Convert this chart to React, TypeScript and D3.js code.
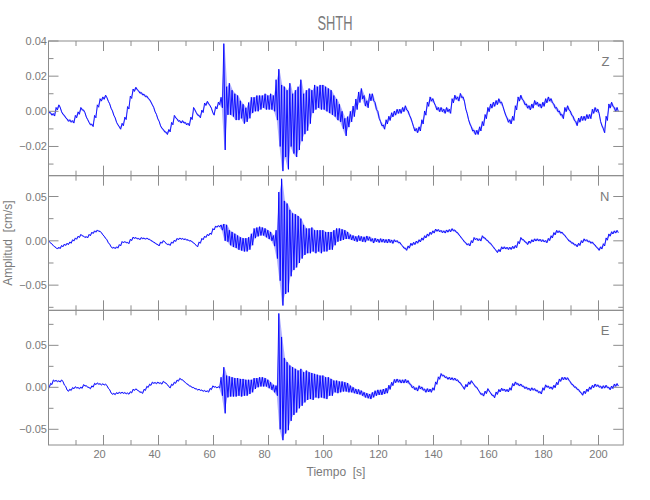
import React from "react";
import * as d3 from "d3";

// ---- data (values in 1e-3 cm/s, one sample per second, t = 0..207 s) ----
// mid = centre of the trace in that second, amp = half of its peak-to-peak spread
const UNIT = 0.001;
const T0 = 0;
const DT = 1;

const zMid = [
  0, -1.5, -2, 1.5, 3, -1, -3, -5, -5.5, -6,
  -3, -1, 1.5, 0, -4, -7, -8, -3, 3, 6.5,
  7.5, 8.5, 5, 1, -3, -7, -9.5, -7.5, -4, 2,
  8, 12, 13, 11, 10, 9, 8, 6, 3, -1,
  -5, -9, -11, -12.5, -11, -7, -3, -5, -6, -6,
  -7, -7.5, -4, 1.5, -1.5, -3, 0, 4, 5, 2.5,
  -1.5, 2, 4.5, 5, 8.25, 6, 7, 4.5, 2.5, 2,
  1, -1.5, -2, 0.5, 3.5, 4, 4.5, 5, 5.5, 5.5,
  5, 5.5, 4.5, 6.5, 2, -9.5, -6, -10.5, -2, -7,
  -7, -4, 0.5, -1.5, 0.5, 3, 5.5, 8, 8, 8,
  8, 7, 6, 5, 3, 1, -1, -5, -9, -6,
  -3, 0, 4, 8, 10, 6, 4, 8, 8, 3,
  -2, -7, -9, -6, -4, -2, -1, 0, 0, 1,
  2, -1, -5, -10, -11, -10, -6, -1, 4, 7,
  6, 2, 1, 1, 0, 1, 0, 6, 8, 7,
  9, 7, 0, -6, -10, -12, -12, -10, -7, -3,
  1, 3, 4, 5, 6, 4, -1, -5, -6, -4,
  2, 7, 8, 5, 3, 2, 3, 5, 4, 3,
  4, 6, 7, 6, 3, 1, -1, -3, 1, 2,
  -1, -4, -7, -5, -4, -4, -3, -3, 0, 1,
  0, -7, -11, -4, 3, 4, 1, 1,
];
const zAmp = [
  0.7, 0.7, 0.7, 0.7, 0.7, 0.7, 0.7, 0.7, 0.7, 0.7,
  0.7, 0.7, 0.7, 0.7, 0.7, 0.7, 0.7, 0.7, 0.7, 0.7,
  0.7, 0.7, 0.7, 0.7, 0.7, 0.7, 0.7, 0.7, 0.7, 0.7,
  0.7, 0.7, 0.7, 0.7, 0.7, 0.7, 0.7, 0.7, 0.7, 0.7,
  0.7, 0.7, 0.7, 0.7, 0.7, 0.7, 0.7, 0.7, 0.7, 0.7,
  0.7, 0.7, 0.7, 0.7, 0.7, 0.7, 0.7, 0.7, 0.7, 0.7,
  0.7, 0.7, 0.7, 3, 30.25, 8, 9, 7.5, 7.5, 7,
  5, 5.5, 4, 4.5, 4.5, 4, 4.5, 4, 3.5, 4.5,
  4, 4.5, 4.5, 11.5, 22, 24.5, 20, 22.5, 18, 17,
  19, 18, 17.5, 11.5, 11.5, 10, 6.5, 7, 6, 7,
  7, 7, 7, 7, 6, 6, 5, 5, 5, 3,
  3, 3, 3, 3, 3, 3, 2, 2, 2, 2,
  2, 1.2, 1.2, 1.2, 1.2, 1.2, 1.2, 1.2, 1.2, 1.2,
  1.2, 1.2, 1.2, 1.2, 1.2, 1.2, 1.2, 1.2, 1.2, 1.2,
  1.2, 1.2, 1.2, 1.2, 1.2, 1.2, 1.2, 1.2, 1.2, 1.2,
  1.2, 1.2, 1.2, 1.2, 1.2, 1.2, 1.2, 1.2, 1.2, 1.2,
  1.2, 1.2, 1.2, 1.2, 1.2, 1.2, 1.2, 1.2, 1.2, 1.2,
  1.2, 1.2, 1.2, 1.2, 1.2, 1.2, 1.2, 1.2, 1.2, 1.2,
  1.2, 1.2, 1.2, 1.2, 1.2, 1.2, 1.2, 1.2, 1.2, 1.2,
  1.2, 1.2, 1.2, 1.2, 1.2, 1.2, 1.2, 1.2, 1.2, 1.2,
  1.2, 1.2, 1.2, 1.2, 1.2, 1.2, 1.2, 1.2,
];

const nMid = [
  0, -3, -6, -8.5, -8, -6, -4.5, -3.5, -2, 0.5,
  2.5, 4.5, 6.5, 4.5, 4, 6.5, 9, 10.5, 11.5, 10,
  6, 2, -3, -7.5, -8, -7.5, -5, -1.5, -1.5, -2.5,
  1, 3.5, 3, 2, 3, 2.5, 2.5, 1, -1, -3,
  -5, -2, -0.5, -3.5, -4.5, -2, 0, 2, 2.5, 2,
  1.5, 0.5, -0.5, -3, -6, -2, 2, 4.5, 6.5, 8,
  13, 16, 16.5, 15, 9.5, 8.5, 3.5, 1.5, 0, -2,
  -3.5, -4.5, -4.5, -3, 1.5, 8.5, 10, 11, 10.5, 9,
  7, 5, 0, -4, 5, -1.5, -7.5, -8, -2.5, -1,
  0, 1.5, 2.5, 1, 0, 0, 1.5, -1, 0, -1,
  0, -1, 0, 0, 3.5, 6.5, 7, 7, 7, 6,
  4, 3, 2, 3, 2, 1.5, 3, 2, 0, 1,
  0, 0.5, 0, -0.5, 0, -1, 0, -1, -3, -7,
  -9.5, -7, -4, -3, -1.5, 0, 2, 4.5, 6.5, 8.5,
  10, 12, 11.5, 10.5, 10, 11, 11.5, 12.5, 11, 8,
  4, 0, -3.5, -4.5, -1, 2.5, 1.5, 1, 4.5, 2,
  -1, -4, -8, -12, -11, -8, -8, -8.5, -8.5, -7.5,
  -6.5, -2, 2.5, 0, -3, -1.5, 0, 1, 1, 0.5,
  0, -1, 1.5, 4.5, 8, 10.5, 10, 8.5, 5, 1,
  -1.5, -3.5, -5.5, -4, -1, 1, 0, -1.5, -2.5, -6,
  -9.5, -8, -4.5, 2, 6.5, 9, 10, 10.5,
];
const nAmp = [
  0.8, 0.8, 0.8, 0.8, 0.8, 0.8, 0.8, 0.8, 0.8, 0.8,
  0.8, 0.8, 0.8, 0.8, 0.8, 0.8, 0.8, 0.8, 0.8, 0.8,
  0.8, 0.8, 0.8, 0.8, 0.8, 0.8, 0.8, 0.8, 0.8, 0.8,
  0.8, 0.8, 0.8, 0.8, 0.8, 0.8, 0.8, 0.8, 0.8, 0.8,
  0.8, 0.8, 0.8, 0.8, 0.8, 0.8, 0.8, 0.8, 0.8, 0.8,
  0.8, 0.8, 0.8, 0.8, 0.8, 0.8, 0.8, 0.8, 0.8, 0.8,
  0.8, 0.8, 0.8, 3, 9.5, 9.5, 8.5, 8.5, 8, 8,
  7.5, 7.5, 7.5, 7, 6.5, 5.5, 5, 5, 4.5, 5,
  5, 5, 6, 16, 50, 71.5, 52.5, 50, 37.5, 32,
  30, 26.5, 22.5, 17, 14, 14, 13.5, 13, 12, 13,
  12, 11, 10, 10, 8.5, 7.5, 7, 6, 5, 4,
  3, 3, 3, 3, 3, 3, 2.5, 2.5, 2.5, 2,
  2, 2, 2, 2, 2, 2, 1.3, 1.3, 1.3, 1.3,
  1.3, 1.3, 1.3, 1.3, 1.3, 1.3, 1.3, 1.3, 1.3, 1.3,
  1.3, 1.3, 1.3, 1.3, 1.3, 1.3, 1.3, 1.3, 1.3, 1.3,
  1.3, 1.3, 1.3, 1.3, 1.3, 1.3, 1.3, 1.3, 1.3, 1.3,
  1.3, 1.3, 1.3, 1.3, 1.3, 1.3, 1.3, 1.3, 1.3, 1.3,
  1.3, 1.3, 1.3, 1.3, 1.3, 1.3, 1.3, 1.3, 1.3, 1.3,
  1.3, 1.3, 1.3, 1.3, 1.3, 1.3, 1.3, 1.3, 1.3, 1.3,
  1.3, 1.3, 1.3, 1.3, 1.3, 1.3, 1.3, 1.3, 1.3, 1.3,
  1.3, 1.3, 1.3, 1.3, 1.3, 1.3, 1.3, 1.3,
];

const eMid = [
  0, 4, 8, 7.5, 7, 8, 2, -4, -3, -1,
  0, -1, -0.5, 2.5, 1, -1, 1, 4, 4.5, 3.5,
  3.5, 3, -2, -7.5, -8, -7, -6.5, -6.5, -7, -7.5,
  -6, -3, -2.5, -5, -6.5, -3, 0.5, 3, 5.5, 5,
  5.5, 4.5, 6.5, 4, 0, 3, 5.5, 8, 10, 8,
  5, 2.5, 0.5, -1, -2.5, -3, -4, -4.5, -5, -2,
  1, 0, 0, 1, -3.5, 1, 1, 0.5, 0, 0.5,
  -0.5, 0, -0.5, 0.5, 1.5, 4.5, 5.5, 6.5, 6.5, 6,
  4, 1.5, -1.5, -4, 19, -1.5, -10, -10.5, -7, -4.5,
  -4, -2.5, 0, 0, 2.5, 2, 1, 2, 1, 1,
  0.5, -1, 1, 0, 1, 0.5, 0.5, 1, 0.5, -0.5,
  -2, -3.5, -5, -5.5, -7, -9, -10, -11, -9, -7,
  -6, -6, -5, -4, 0, 4, 7.5, 8, 7, 7,
  7.5, 6, 1.5, -1, -2.5, 0, -1.5, -4, -3.5, -4,
  -2, 5, 11, 15, 13, 11, 10.5, 10, 9.5, 7.5,
  4, -1, 2, 5, 6.5, 2, -1.5, -7, -9, -6,
  -3, -8, -11, -7, -4, -2.5, -3.5, -4, -2, 3,
  5, 3, 2.5, 0, -1, -2.5, -2, -3, -5, -6.5,
  -2, 1.5, 0, -1, 1, 4.5, 8.5, 10.5, 10.5, 10,
  5, 1.5, -1, -4, -8, -6, -3.5, -1, 1, 2.5,
  1.5, 0, 0.5, 1, -1.5, 0, 2.5, 3,
];
const eAmp = [
  0.8, 0.8, 0.8, 0.8, 0.8, 0.8, 0.8, 0.8, 0.8, 0.8,
  0.8, 0.8, 0.8, 0.8, 0.8, 0.8, 0.8, 0.8, 0.8, 0.8,
  0.8, 0.8, 0.8, 0.8, 0.8, 0.8, 0.8, 0.8, 0.8, 0.8,
  0.8, 0.8, 0.8, 0.8, 0.8, 0.8, 0.8, 0.8, 0.8, 0.8,
  0.8, 0.8, 0.8, 0.8, 0.8, 0.8, 0.8, 0.8, 0.8, 0.8,
  0.8, 0.8, 0.8, 0.8, 0.8, 0.8, 0.8, 0.8, 0.8, 0.8,
  0.8, 0.8, 0.8, 11, 27.5, 13, 12, 11.5, 11, 10.5,
  10.5, 10, 9.5, 8.5, 7.5, 6.5, 5.5, 5.5, 5.5, 5,
  5, 4.5, 4.5, 6, 69, 61.5, 45, 40.5, 33, 28.5,
  26, 22.5, 22, 18, 17.5, 16, 16, 14, 14, 13,
  13.5, 13, 11, 10, 7, 7.5, 6.5, 6, 5.5, 5.5,
  4, 3.5, 3, 3, 3, 3, 3, 3, 3, 3,
  3, 3, 3, 3, 2.5, 2, 2, 2, 2, 2,
  2, 2, 2, 2, 2, 2, 2, 2, 2, 2,
  1.5, 1.5, 1.5, 1.5, 1.5, 1.5, 1.5, 1.5, 1.5, 1.5,
  1.5, 1.5, 1.5, 1.5, 1.5, 1.5, 1.5, 1.5, 1.5, 1.5,
  1.5, 1.5, 1.5, 1.5, 1.5, 1.5, 1.5, 1.5, 1.5, 1.5,
  1.5, 1.5, 1.5, 1.5, 1.5, 1.5, 1.5, 1.5, 1.5, 1.5,
  1.5, 1.5, 1.5, 1.5, 1.5, 1.5, 1.5, 1.5, 1.5, 1.5,
  1.5, 1.5, 1.5, 1.5, 1.5, 1.5, 1.5, 1.5, 1.5, 1.5,
  1.5, 1.5, 1.5, 1.5, 1.5, 1.5, 1.5, 1.5,
];

const TITLE = "SHTH";
const X_LABEL = "Tiempo  [s]";
const Y_LABEL = "Amplitud  [cm/s]";
const X_DOMAIN = [0, 209];
const X_MAJOR = [20, 40, 60, 80, 100, 120, 140, 160, 180, 200];
const X_MINOR = [10, 30, 50, 70, 90, 110, 130, 150, 170, 190];

const CHANNELS = ["Z", "N", "E"];
const Y_DOMAINS = [[-0.0366, 0.04], [-0.0784, 0.0735], [-0.0687, 0.0917]];
const Y_MAJOR = [[-0.02, 0, 0.02, 0.04], [-0.05, 0, 0.05], [-0.05, 0, 0.05]];
const Y_MINOR = [[-0.03, -0.01, 0.01, 0.03], [-0.075, -0.025, 0.025], [-0.025, 0.025, 0.075]];

// ---- layout ----
const W = 650, H = 500;
const LEFT = 48.5, RIGHT = 623.25, TOP = 41, BOTTOM = 445;
const AXIS = "#8c8c8c";
const TEXT = "#7a7a7a";
const FONT = "'Liberation Sans', Arial, sans-serif";

export default function App() {
  const x = d3.scaleLinear().domain(X_DOMAIN).range([LEFT, RIGHT]);
  const ph = (BOTTOM - TOP) / 3;
  const traces = [
    { mid: zMid, amp: zAmp },
    { mid: nMid, amp: nAmp },
    { mid: eMid, amp: eAmp },
  ];
  const fmt = d3.format(".2f");

  return (
    <svg width={W} height={H} style={{ position: "absolute", left: 0, top: 0 }} fontFamily={FONT}>
      <rect x={0} y={0} width={W} height={H} fill="#fff" />
      <text x={335} y={30} fontSize={20} fill={TEXT} textAnchor="middle" textLength={35} lengthAdjust="spacingAndGlyphs">{TITLE}</text>
      {CHANNELS.map((ch, k) => {
        const top = TOP + k * ph;
        const bot = top + ph;
        const y = d3.scaleLinear().domain(Y_DOMAINS[k]).range([bot, top]);
        const { mid, amp } = traces[k];
        const pts: [number, number][] = [];
        mid.forEach((m, i) => {
          const t = T0 + i * DT;
          pts.push([t - 0.25 * DT, (m + amp[i]) * UNIT]);
          pts.push([t + 0.25 * DT, (m - amp[i]) * UNIT]);
        });
        const band = mid.map((m, i) => ({ t: T0 + i * DT, lo: (m - amp[i]) * UNIT, hi: (m + amp[i]) * UNIT }));
        const area = d3
          .area<{ t: number; lo: number; hi: number }>()
          .x((d) => x(d.t))
          .y0((d) => y(d.lo))
          .y1((d) => y(d.hi));
        const line = d3.line<[number, number]>().x((d) => x(d[0])).y((d) => y(d[1]));
        const clipId = `clip-${ch}`;
        return (
          <g key={ch}>
            <defs>
              <clipPath id={clipId}>
                <rect x={LEFT} y={top} width={RIGHT - LEFT} height={ph} />
              </clipPath>
            </defs>
            <g clipPath={`url(#${clipId})`}>
              <path d={area(band) || ""} fill="#3a3aff" fillOpacity={0.4} stroke="none" />
              <path d={line(pts) || ""} fill="none" stroke="#0000ff" strokeWidth={0.9} />
            </g>
            <rect x={LEFT} y={top} width={RIGHT - LEFT} height={ph} fill="none" stroke={AXIS} strokeWidth={1} />
            {X_MAJOR.map((v) => (
              <g key={"xM" + v}>
                <line x1={x(v)} x2={x(v)} y1={top} y2={top + 10} stroke={AXIS} />
                <line x1={x(v)} x2={x(v)} y1={bot} y2={bot - 10} stroke={AXIS} />
              </g>
            ))}
            {X_MINOR.map((v) => (
              <g key={"xm" + v}>
                <line x1={x(v)} x2={x(v)} y1={top} y2={top + 5} stroke={AXIS} />
                <line x1={x(v)} x2={x(v)} y1={bot} y2={bot - 5} stroke={AXIS} />
              </g>
            ))}
            {Y_MAJOR[k].map((v) => (
              <g key={"yM" + v}>
                <line x1={LEFT} x2={LEFT + 10} y1={y(v)} y2={y(v)} stroke={AXIS} />
                <line x1={RIGHT} x2={RIGHT - 10} y1={y(v)} y2={y(v)} stroke={AXIS} />
                <text x={LEFT - 1.5} y={y(v) + 4} fontSize={11} fill={TEXT} textAnchor="end">{fmt(v)}</text>
              </g>
            ))}
            {Y_MINOR[k].map((v) => (
              <g key={"ym" + v}>
                <line x1={LEFT} x2={LEFT + 5} y1={y(v)} y2={y(v)} stroke={AXIS} />
                <line x1={RIGHT} x2={RIGHT - 5} y1={y(v)} y2={y(v)} stroke={AXIS} />
              </g>
            ))}
            <text x={609.5} y={top + 25} fontSize={13} fill={TEXT} textAnchor="end">{ch}</text>
          </g>
        );
      })}
      {X_MAJOR.map((v) => (
        <text key={"xl" + v} x={x(v) - (v < 100 ? 4 : 0)} y={458} fontSize={11} fill={TEXT} textAnchor="middle">{v}</text>
      ))}
      <text x={336} y={476} fontSize={12} fill={TEXT} textAnchor="middle" style={{ whiteSpace: "pre" }}>{X_LABEL}</text>
      <text transform={`translate(12, 243) rotate(-90)`} fontSize={12} fill={TEXT} textAnchor="middle" style={{ whiteSpace: "pre" }}>{Y_LABEL}</text>
    </svg>
  );
}
